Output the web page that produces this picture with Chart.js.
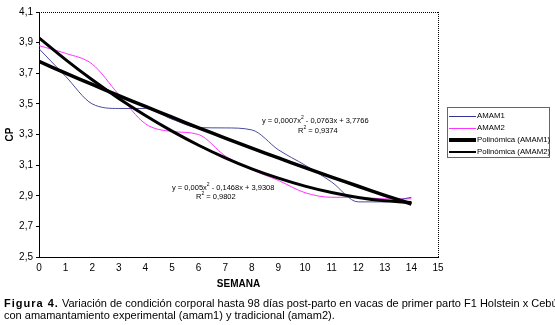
<!DOCTYPE html>
<html>
<head>
<meta charset="utf-8">
<script src="https://cdn.jsdelivr.net/npm/chart.js@4.4.1/dist/chart.umd.min.js"></script>
<style>
  html, body { margin: 0; padding: 0; background: #fff; }
  #wrap { position: relative; width: 555px; height: 325px; overflow: hidden; font-family: "Liberation Sans", Arial, sans-serif; color: #000; }
  #c { position: absolute; left: 0; top: 0; }
  .abs { position: absolute; white-space: nowrap; }
  .eq { font-size: 7.5px; line-height: 10px; }
  .eq sup { font-size: 5px; vertical-align: 4px; line-height: 0; }
  #legend { position: absolute; left: 447px; top: 107px; width: 103px; height: 51px; border: 1px solid #666; background: #fff; box-sizing: border-box; font-size: 7.8px; }
  .row { position: absolute; left: 1px; height: 12px; line-height: 12px; }
  .sample { position: absolute; left: 0; width: 27px; }
  .lbl { position: absolute; left: 28px; top: 0; white-space: nowrap; }
  .cap { font-size: 11px; line-height: 12px; left: 4px; }
  .cap b { letter-spacing: 1px; }
</style>
</head>
<body>
<div id="wrap">
  <canvas id="c" width="555" height="325"></canvas>
  <div class="abs eq" id="eq1" style="left:262px; top:116px;">y = 0,0007x<sup>2</sup> - 0,0763x + 3,7766</div>
  <div class="abs eq" id="r1" style="left:298px; top:126px;">R<sup>2</sup> = 0,9374</div>
  <div class="abs eq" id="eq2" style="left:172px; top:183px;">y = 0,005x<sup>2</sup> - 0,1468x + 3,9308</div>
  <div class="abs eq" id="r2" style="left:196px; top:192px;">R<sup>2</sup> = 0,9802</div>
  <div id="legend">
    <div class="row" style="top:2px;"><div class="sample" style="top:6px;border-top:1px solid #333399;"></div><span class="lbl">AMAM1</span></div>
    <div class="row" style="top:14px;"><div class="sample" style="top:6px;border-top:1px solid #ff33ff;"></div><span class="lbl">AMAM2</span></div>
    <div class="row" style="top:25.5px;"><div class="sample" style="top:4px;border-top:4px solid #000;"></div><span class="lbl">Polinómica (AMAM1)</span></div>
    <div class="row" style="top:37.5px;"><div class="sample" style="top:5px;border-top:2px solid #000;"></div><span class="lbl">Polinómica (AMAM2)</span></div>
  </div>
  <div class="abs cap" style="top:297px;"><b>Figura 4.</b> Variación de condición corporal hasta 98 días post-parto en vacas de primer parto F1 Holstein x Cebú</div>
  <div class="abs cap" style="top:309px;">con amamantamiento experimental (amam1) y tradicional (amam2).</div>
</div>
<script>
// Weeks (x categories)
const weeks = [0,1,2,3,4,5,6,7,8,9,10,11,12,13,14];
const amam1 = [3.86,3.68,3.50,3.47,3.47,3.40,3.345,3.343,3.33,3.20,3.10,2.99,2.86,2.86,2.89];
const amam2 = [3.88,3.83,3.76,3.56,3.37,3.32,3.30,3.16,3.07,3.00,2.92,2.89,2.89,2.88,2.88];
// Polynomial trend lines as drawn (values read at each week)
const poly1 = [3.777,3.701,3.627,3.554,3.483,3.413,3.344,3.277,3.211,3.147,3.084,3.022,2.962,2.903,2.846];
const poly2 = [3.931,3.789,3.657,3.535,3.424,3.322,3.230,3.148,3.076,3.015,2.963,2.921,2.889,2.867,2.856];
// Tick labels
const yTickLabels = ['2,5','2,7','2,9','3,1','3,3','3,5','3,7','3,9','4,1'];
const xTickLabels = ['0','1','2','3','4','5','6','7','8','9','10','11','12','13','14','15'];

const pts = arr => weeks.map((w,i) => ({x: w, y: arr[i]}));

const frame = {
  id: 'frame',
  afterDatasetsDraw(chart) {
    const {ctx, chartArea: a} = chart;
    ctx.save();
    ctx.strokeStyle = '#000';
    ctx.lineWidth = 1;
    ctx.setLineDash([1,1]);
    ctx.beginPath();
    ctx.moveTo(a.left, a.top + 0.5); ctx.lineTo(a.right, a.top + 0.5);
    ctx.moveTo(a.right + 0.5, a.top); ctx.lineTo(a.right + 0.5, a.bottom);
    ctx.stroke();
    ctx.restore();
  }
};

new Chart(document.getElementById('c'), {
  type: 'line',
  data: {
    datasets: [
      { label: 'AMAM1', data: pts(amam1), borderColor: '#4a4a9e', borderWidth: 1, pointRadius: 0, cubicInterpolationMode: 'monotone', fill: false, order: 3 },
      { label: 'AMAM2', data: pts(amam2), borderColor: '#ff33ff', borderWidth: 1, pointRadius: 0, cubicInterpolationMode: 'monotone', fill: false, order: 4 },
      { label: 'Polinómica (AMAM1)', data: pts(poly1), borderColor: '#000', borderWidth: 3.5, pointRadius: 0, tension: 0.4, fill: false, order: 1 },
      { label: 'Polinómica (AMAM2)', data: pts(poly2), borderColor: '#000', borderWidth: 3, pointRadius: 0, tension: 0.4, fill: false, order: 2 }
    ]
  },
  options: {
    responsive: false,
    animation: false,
    events: [],
    layout: { padding: { left: 0, top: 12, right: 117, bottom: 35 } },
    plugins: { legend: { display: false }, tooltip: { enabled: false } },
    scales: {
      x: {
        type: 'linear', min: 0, max: 15,
        afterFit(s) { s.height = 33; },
        grid: { display: true, drawOnChartArea: false, drawTicks: false },
        border: { display: true, color: '#000', width: 1, dash: [1,1] },
        ticks: { stepSize: 1, padding: 5, color: '#000', font: { family: '"Liberation Sans", Arial', size: 10 },
                 callback: (v) => xTickLabels[v] },
        title: { display: true, text: 'SEMANA', color: '#000', font: { family: '"Liberation Sans", Arial', size: 10, weight: 'bold' }, padding: { top: 2, bottom: 0 } }
      },
      y: {
        min: 2.5, max: 4.1,
        afterFit(s) { s.width = 39; },
        grid: { display: true, drawOnChartArea: false, tickLength: 3, color: '#000' },
        border: { display: true, color: '#000', width: 1 },
        ticks: { stepSize: 0.2, padding: 3, color: '#000', font: { family: '"Liberation Sans", Arial', size: 10 },
                 callback: (v) => yTickLabels[Math.round((v - 2.5) / 0.2)] },
        title: { display: true, text: 'CP', color: '#000', font: { family: '"Liberation Sans", Arial', size: 10, weight: 'bold' }, padding: { top: 4, bottom: 0 } }
      }
    }
  },
  plugins: [frame]
});
</script>
</body>
</html>
